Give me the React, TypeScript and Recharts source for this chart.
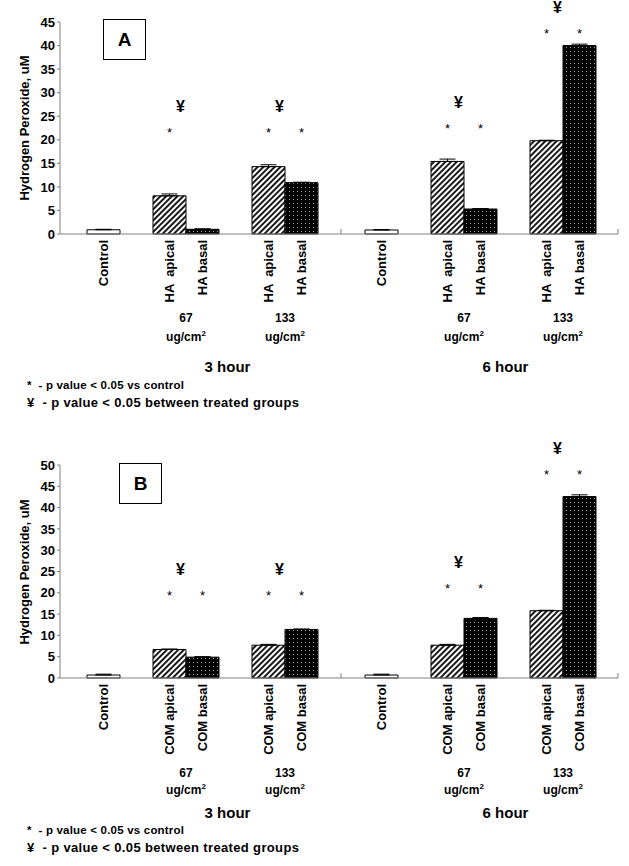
import React from 'react';
import { ComposedChart, Bar, Cell, XAxis, YAxis, Scatter, ErrorBar } from 'recharts';

// one time block = control, gap, 67 pair, gap, 133 pair
const rowKeys = ['ctl', 'gap1', 'ap67', 'bs67', 'gap2', 'ap133', 'bs133'];
const rowKinds = ['control', 'gap', 'apical', 'basal', 'gap', 'apical', 'basal'];
const doseLabels = ['', '', '67', '', '', '133', ''];
const yenRows = [false, false, true, false, false, true, false];

const haLabels = ['Control', '', 'HA  apical', 'HA basal', '', 'HA  apical', 'HA basal'];
const comLabels = ['Control', '', 'COM apical', 'COM basal', '', 'COM apical', 'COM basal'];

const ticksA = [0, 5, 10, 15, 20, 25, 30, 35, 40, 45];
const ticksB = [0, 5, 10, 15, 20, 25, 30, 35, 40, 45, 50];

// panel A - HA
const ha3hValues = [0.9, null, 8.1, 1.0, null, 14.3, 10.9];
const ha3hErrors = [0.1, null, 0.4, 0.1, null, 0.4, 0.1];
const ha3hStars = [null, null, 22, null, null, 22, 22];
const ha6hValues = [0.85, null, 15.4, 5.3, null, 19.8, 40.0];
const ha6hErrors = [0.1, null, 0.5, 0.1, null, 0.1, 0.3];
const ha6hStars = [null, null, 23, 23, null, 43, 43];

// panel B - COM
const com3hValues = [0.7, null, 6.7, 4.9, null, 7.7, 11.4];
const com3hErrors = [0.2, null, 0.1, 0.1, null, 0.2, 0.1];
const com3hStars = [null, null, 20, 20, null, 20, 20];
const com6hValues = [0.7, null, 7.7, 14.0, null, 15.8, 42.6];
const com6hErrors = [0.2, null, 0.2, 0.2, null, 0.1, 0.4];
const com6hStars = [null, null, 21.6, 21.6, null, 48.4, 48.4];

const FONT = '"Liberation Sans", Arial, sans-serif';
const AXIS = '#808080';
const BAND = 33;
const X_AXIS_H = 150;
const TOP_M = 40; // room above the plot for the ¥ marks

const fills: Record<string, string> = {
  control: '#ffffff',
  apical: 'url(#hatch)',
  basal: 'url(#dots)',
  gap: 'none',
};

const buildRows = (labels: string[], values: (number | null)[], errs: (number | null)[], stars: (number | null)[], hour: string) =>
  rowKeys.map((key, i) => ({
    key,
    label: labels[i],
    kind: rowKinds[i],
    dose: doseLabels[i],
    hour: i === 4 ? hour : '',
    value: values[i],
    err: errs[i] == null ? null : [0, errs[i]],
    star: stars[i],
    yen: yenRows[i] && stars[i] != null,
  }));

const Mark = (props: any) => {
  const { cx, cy, payload } = props;
  if (cx == null || cy == null || isNaN(cy) || payload?.star == null) return <g />;
  return (
    <g>
      <text x={cx} y={cy + 7} textAnchor="middle" fontSize={13} fontFamily={FONT} fill="#000">*</text>
      {payload.yen ? (
        <text x={cx + 11} y={cy - 18} textAnchor="middle" fontSize={16} fontWeight="bold" fontFamily={FONT} fill="#000">¥</text>
      ) : null}
    </g>
  );
};

const CatTick = (props: any) => {
  const { x, y, payload, rows, padLeft, padRight, doseDy, unitDy, hourDy } = props;
  const idx = props.index ?? payload.index;
  const row = rows[idx];
  if (!row) return <g />;
  return (
    <g>
      {row.label ? (
        <text
          x={x}
          y={y + 6}
          dy="0.35em"
          transform={`rotate(-90, ${x}, ${y + 6})`}
          textAnchor="end"
          fontSize={13}
          fontWeight="bold"
          fontFamily={FONT}
          fill="#000"
          style={{ whiteSpace: 'pre' }}
        >
          {row.label}
        </text>
      ) : null}
      {row.dose ? (
        <g fontSize={12} fontWeight="bold" fontFamily={FONT} fill="#000">
          <text x={x + BAND / 2} y={y + doseDy} textAnchor="middle">{row.dose}</text>
          <text x={x + BAND / 2} y={y + unitDy} textAnchor="middle">
            ug/cm<tspan fontSize={8} dy={-5}>2</tspan>
          </text>
        </g>
      ) : null}
      {row.hour ? (
        <text x={x - 8} y={y + hourDy} textAnchor="middle" fontSize={15} fontWeight="bold" fontFamily={FONT} fill="#000">
          {row.hour}
        </text>
      ) : null}
      {padLeft != null && idx === 0 ? (
        <line x1={x - BAND / 2 - padLeft} x2={x - BAND / 2 - padLeft} y1={y - 5} y2={y} stroke={AXIS} />
      ) : null}
      {padRight != null && idx === rows.length - 1 ? (
        <line x1={x + BAND / 2 + padRight} x2={x + BAND / 2 + padRight} y1={y - 5} y2={y} stroke={AXIS} />
      ) : null}
    </g>
  );
};

interface BlockProps {
  rows: any[];
  yMax: number;
  ticks: number[];
  plotH: number;
  withAxis: boolean;
  doseDy: number;
  unitDy: number;
  hourDy: number;
}

const Block = ({ rows, yMax, ticks, plotH, withAxis, doseDy, unitDy, hourDy }: BlockProps) => {
  const width = withAxis ? 341 : 288;
  const pad = withAxis ? { left: 27, right: 23 } : { left: 24, right: 22 };
  return (
    <ComposedChart
      width={width}
      height={TOP_M + plotH + X_AXIS_H}
      data={rows}
      margin={withAxis ? { top: TOP_M, right: 0, left: 20, bottom: 0 } : { top: TOP_M, right: 11, left: 0, bottom: 0 }}
      barCategoryGap={0}
      barGap={0}
    >
      <XAxis
        dataKey="key"
        interval={0}
        height={X_AXIS_H}
        padding={pad}
        axisLine={{ stroke: AXIS }}
        tickLine={false}
        tickSize={0}
        tickMargin={0}
        tick={(p: any) => (
          <CatTick
            {...p}
            rows={rows}
            padLeft={withAxis ? undefined : pad.left}
            padRight={pad.right}
            doseDy={doseDy}
            unitDy={unitDy}
            hourDy={hourDy}
          />
        )}
      />
      {withAxis ? (
        <YAxis
          domain={[0, yMax]}
          ticks={ticks}
          interval={0}
          width={40}
          tickSize={3}
          tickMargin={2}
          axisLine={{ stroke: AXIS }}
          tickLine={{ stroke: AXIS }}
          tick={{ fontSize: 13, fontWeight: 'bold', fill: '#000', fontFamily: FONT }}
        />
      ) : (
        <YAxis hide domain={[0, yMax]} ticks={ticks} />
      )}
      <Bar dataKey="value" stroke="#000" strokeWidth={1} isAnimationActive={false}>
        {rows.map((r) => (
          <Cell key={r.key} fill={fills[r.kind]} />
        ))}
        <ErrorBar dataKey="err" width={8} stroke="#000" strokeWidth={1} direction="y" />
      </Bar>
      <Scatter dataKey="star" shape={Mark} isAnimationActive={false} />
    </ComposedChart>
  );
};

interface PanelProps {
  plotTop: number;
  letter: string;
  boxLeft: number;
  boxTop: number;
  yMax: number;
  ticks: number[];
  plotH: number;
  left: any[];
  right: any[];
  doseDy: number;
  unitDy: number;
  hourDy: number;
  noteTop: number;
}

const Panel = ({ plotTop, letter, boxLeft, boxTop, yMax, ticks, plotH, left, right, doseDy, unitDy, hourDy, noteTop }: PanelProps) => (
  <>
    <div style={{ position: 'absolute', left: 0, top: plotTop - TOP_M }}>
      <Block rows={left} yMax={yMax} ticks={ticks} plotH={plotH} withAxis doseDy={doseDy} unitDy={unitDy} hourDy={hourDy} />
    </div>
    <div style={{ position: 'absolute', left: 341, top: plotTop - TOP_M }}>
      <Block rows={right} yMax={yMax} ticks={ticks} plotH={plotH} withAxis={false} doseDy={doseDy} unitDy={unitDy} hourDy={hourDy} />
    </div>
    <div
      style={{
        position: 'absolute',
        left: 25 - 110,
        top: plotTop + plotH / 2 - 8,
        width: 220,
        lineHeight: '16px',
        textAlign: 'center',
        transform: 'rotate(-90deg)',
        fontSize: 13,
        fontWeight: 'bold',
      }}
    >
      Hydrogen Peroxide, uM
    </div>
    <div
      style={{
        position: 'absolute',
        left: boxLeft,
        top: boxTop,
        width: 43,
        height: 41,
        boxSizing: 'border-box',
        border: '1px solid #000',
        background: '#fff',
        display: 'flex',
        alignItems: 'center',
        justifyContent: 'center',
        fontSize: 19,
        fontWeight: 'bold',
      }}
    >
      {letter}
    </div>
    <div style={{ position: 'absolute', left: 27, top: noteTop - 7, fontSize: 11.5, fontWeight: 'bold', whiteSpace: 'pre', lineHeight: '14px', letterSpacing: 0.2 }}>
      {'*  - p value < 0.05 vs control'}
    </div>
    <div style={{ position: 'absolute', left: 27, top: noteTop + 10, fontSize: 13, fontWeight: 'bold', whiteSpace: 'pre', lineHeight: '16px', letterSpacing: 0.35 }}>
      {'¥  - p value < 0.05 between treated groups'}
    </div>
  </>
);

export default function App() {
  return (
    <div style={{ position: 'absolute', left: 0, top: 0, width: 629, height: 866, background: '#fff', fontFamily: FONT, color: '#000', overflow: 'hidden' }}>
      <svg width={0} height={0} style={{ position: 'absolute' }}>
        <defs>
          <pattern id="hatch" width={4} height={4} patternUnits="userSpaceOnUse" patternTransform="rotate(45)">
            <rect width={4} height={4} fill="#fff" />
            <line x1={1} y1={0} x2={1} y2={4} stroke="#000" strokeWidth={1.8} />
          </pattern>
          <pattern id="dots" width={4} height={4} patternUnits="userSpaceOnUse">
            <rect width={4} height={4} fill="#000" />
            <rect x={1} y={1} width={1} height={1} fill="#aaa" />
          </pattern>
        </defs>
      </svg>
      <Panel
        plotTop={22}
        letter="A"
        boxLeft={103}
        boxTop={19}
        yMax={45}
        ticks={ticksA}
        plotH={212}
        left={buildRows(haLabels, ha3hValues, ha3hErrors, ha3hStars, '3 hour')}
        right={buildRows(haLabels, ha6hValues, ha6hErrors, ha6hStars, '6 hour')}
        doseDy={88}
        unitDy={107}
        hourDy={138}
        noteTop={385}
      />
      <Panel
        plotTop={465}
        letter="B"
        boxLeft={119}
        boxTop={463}
        yMax={50}
        ticks={ticksB}
        plotH={213}
        left={buildRows(comLabels, com3hValues, com3hErrors, com3hStars, '3 hour')}
        right={buildRows(comLabels, com6hValues, com6hErrors, com6hStars, '6 hour')}
        doseDy={99}
        unitDy={116}
        hourDy={140}
        noteTop={830}
      />
    </div>
  );
}
